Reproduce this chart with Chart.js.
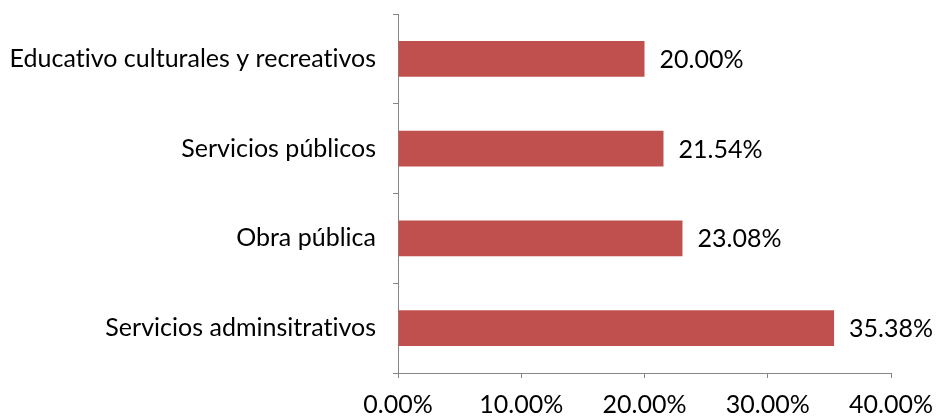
<!DOCTYPE html>
<html>
<head>
<meta charset="utf-8">
<script src="https://cdn.jsdelivr.net/npm/chart.js@4/dist/chart.umd.min.js"></script>
<style>
html,body{margin:0;padding:0;background:#fff;}
#wrap{width:937px;height:416px;position:relative;}
</style>
</head>
<body>
<div id="wrap"><canvas id="c" width="937" height="416"></canvas></div>
<script>
const categories = ["Educativo culturales y recreativos", "Servicios públicos", "Obra pública", "Servicios adminsitrativos"];
const values = [20.00, 21.54, 23.08, 35.38];
const xTicks = [0, 10, 20, 30, 40];

const FONT = "Lato, 'Open Sans', sans-serif";
const FSIZE = 25;
const AXIS = "#868686";

const noLigatures = {
  id: 'noLigatures',
  beforeDraw(chart) {
    const ctx = chart.ctx;
    try { ctx.textRendering = 'optimizeSpeed'; } catch (e) {}
    try { ctx.letterSpacing = '0.01px'; } catch (e) {}
  }
};

const labelPlugin = {
  id: 'barLabels',
  afterDatasetsDraw(chart) {
    const ctx = chart.ctx;
    const meta = chart.getDatasetMeta(0);
    ctx.save();
    ctx.font = FSIZE + "px " + FONT;
    ctx.fillStyle = "#000";
    ctx.textAlign = "left";
    ctx.textBaseline = "middle";
    meta.data.forEach((bar, i) => {
      ctx.fillText(values[i].toFixed(2) + "%", bar.x + 15, bar.y + 1);
    });
    ctx.restore();
  }
};

new Chart(document.getElementById('c'), {
  type: 'bar',
  data: {
    labels: categories,
    datasets: [{
      data: values,
      backgroundColor: "#C0504D",
      borderWidth: 0,
      barPercentage: 0.8,
      categoryPercentage: 0.5
    }]
  },
  options: {
    indexAxis: 'y',
    responsive: false,
    animation: false,
    events: [],
    layout: { padding: { top: 14, right: 46, left: 0, bottom: 0 } },
    plugins: { legend: { display: false }, tooltip: { enabled: false } },
    scales: {
      x: {
        min: 0, max: 40,
        afterBuildTicks(scale) { scale.ticks = xTicks.map(v => ({ value: v })); },
        afterFit(scale) { scale.height = 43; scale.paddingLeft = 0; scale.paddingRight = 0; },
        grid: { display: true, drawOnChartArea: false, drawTicks: true, tickLength: 5, color: AXIS, lineWidth: 1 },
        border: { display: true, color: AXIS, width: 1 },
        ticks: {
          font: { family: FONT, size: FSIZE },
          color: "#000",
          padding: 12,
          maxRotation: 0,
          callback: v => Number(v).toFixed(2) + "%"
        }
      },
      y: {
        afterFit(scale) { scale.width = 398; scale.paddingTop = 0; scale.paddingBottom = 0; },
        grid: { display: true, drawOnChartArea: false, drawTicks: true, tickLength: 5, color: AXIS, lineWidth: 1, offset: true },
        border: { display: true, color: AXIS, width: 1 },
        ticks: {
          font: { family: FONT, size: FSIZE },
          color: "#000",
          padding: 17
        }
      }
    }
  },
  plugins: [noLigatures, labelPlugin]
});
</script>
</body>
</html>
